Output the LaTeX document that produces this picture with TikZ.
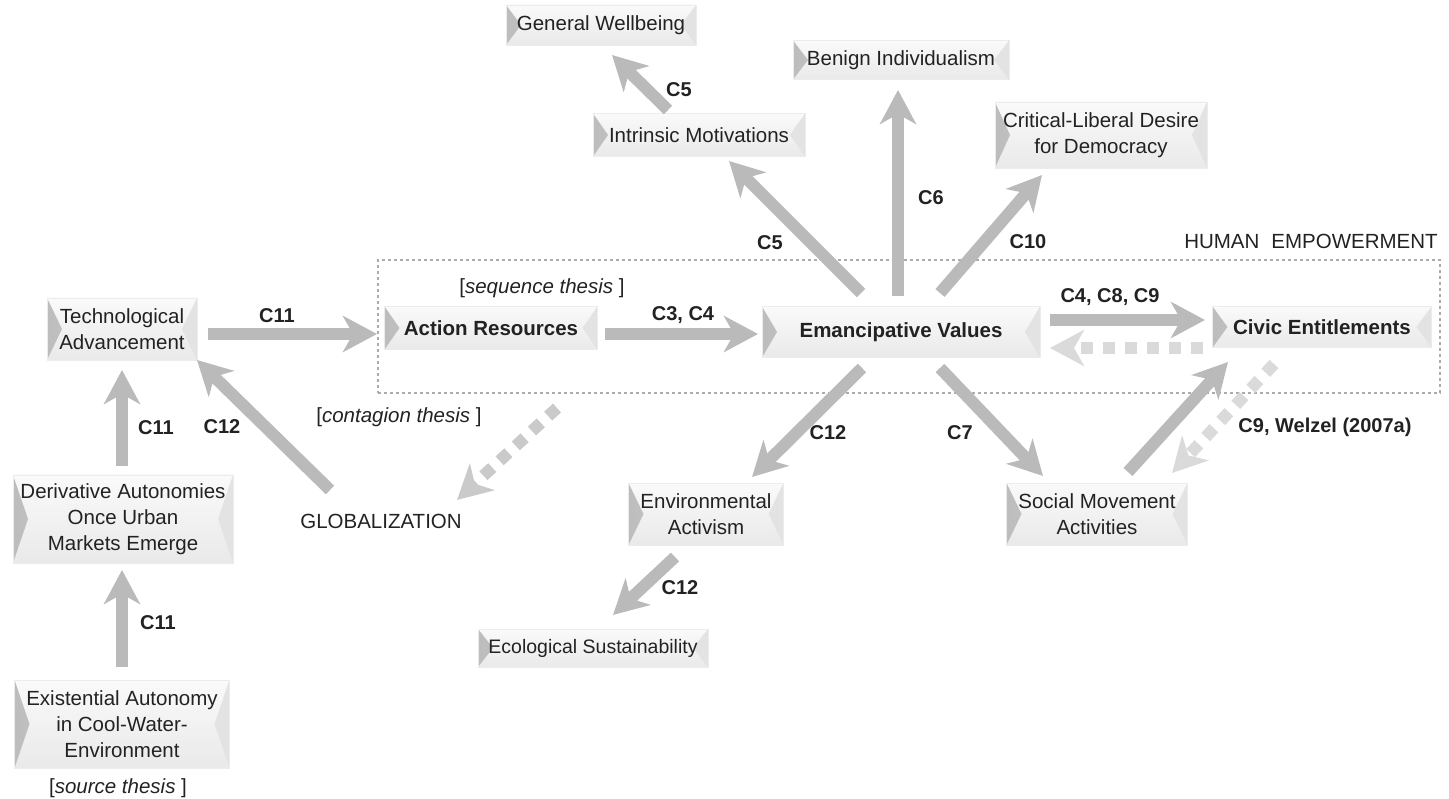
\documentclass[tikz,border=0pt]{standalone}
\usepackage{fontspec}
\setmainfont{Liberation Sans}
\usetikzlibrary{arrows.meta,calc}
\definecolor{arr}{HTML}{BABABA}
\definecolor{arrl}{HTML}{DADADA}
\definecolor{arrm}{HTML}{CACACA}
\definecolor{txt}{HTML}{222222}
\begin{document}
\begin{tikzpicture}[x=1pt,y=-1pt,
  box/.style={rectangle, inner xsep=2pt, inner ysep=2pt, align=center, text=txt,
    font=\fontsize{20.5}{26}\selectfont, top color=gray!4, bottom color=gray!17,
    draw=gray!15, line width=0.6pt,
    path picture={
      \shade[left color=gray!52, right color=gray!20]
        (path picture bounding box.north west) -- (path picture bounding box.south west)
        -- ([xshift=15pt]path picture bounding box.west) -- cycle;
      \fill[gray!22]
        (path picture bounding box.north east) -- (path picture bounding box.south east)
        -- ([xshift=-15pt]path picture bounding box.east) -- cycle;
    }},
  bbox/.style={box, font=\bfseries\fontsize{20.5}{26}\selectfont},
  lab/.style={text=txt, font=\bfseries\fontsize{20}{24}\selectfont, inner sep=0pt},
  ptext/.style={text=txt, font=\fontsize{20.5}{24}\selectfont, inner sep=0pt},
  conn/.style={draw=arr, line width=12pt, -{Stealth[length=34pt,width=36pt,inset=10pt]}},
  dconn/.style={conn, draw=arrl, dash pattern=on 12pt off 10pt},
  empbox/.style={draw=gray!65, line width=1.6pt, dash pattern=on 3pt off 3pt, rectangle},
]
\useasboundingbox (0,0) rectangle (1449,799);

% human empowerment frame
\node[empbox, minimum width=1062pt, minimum height=133pt] (hum) at (909,326.5) {};
\node[ptext] (humlab) at (1311,241) {HUMAN\hspace{12pt}EMPOWERMENT};

% boxes
\node[box, minimum width=190pt, minimum height=40pt] (gw) at (601,25) {General Wellbeing};
\node[box, minimum width=216pt, minimum height=39pt] (ben) at (901,60) {Benign Individualism};
\node[box, minimum width=212pt, minimum height=43pt] (intr) at (699,135) {Intrinsic Motivations};
\node[box, minimum width=212pt, minimum height=66pt] (crit) at (1101,135) {Critical-Liberal Desire\\for Democracy};
\node[box, minimum width=150pt, minimum height=62pt] (tech) at (122,329) {Technological\\Advancement};
\node[bbox, minimum width=213pt, minimum height=43pt] (act) at (491,328) {Action Resources};
\node[bbox, minimum width=278pt, minimum height=51pt] (ev) at (901,332) {Emancipative Values};
\node[bbox, minimum width=219pt, minimum height=41pt] (civ) at (1322,327) {Civic Entitlements};
\node[box, minimum width=220pt, minimum height=88pt] (der) at (123,519) {Derivative Autonomies\\Once Urban\\Markets Emerge};
\node[box, minimum width=215pt, minimum height=88pt] (exi) at (122,724) {Existential Autonomy\\in Cool-Water-\\Environment};
\node[box, minimum width=155pt, minimum height=62pt] (env) at (706,514) {Environmental\\Activism};
\node[box, minimum width=181pt, minimum height=62pt] (soc) at (1097,514) {Social Movement\\Activities};
\node[box, minimum width=230pt, minimum height=38pt, font=\fontsize{19.5}{24}\selectfont] (eco) at (593,648) {Ecological Sustainability};

% free texts
\node[ptext] (glob) at (381,521) {GLOBALIZATION};
\node[ptext] (seq) at (542,288) {[\textit{sequence thesis} ]};
\node[ptext] (cont) at (399,417) {[\textit{contagion thesis} ]};
\node[ptext] (src) at (118,788) {[\textit{source thesis} ]};

% connectors
\draw[conn] ($(tech)+(86,5)$) -- ($(act)+(-114,6)$);
\draw[conn] ($(act)+(114,6)$) -- ($(ev)+(-143,2)$);
\draw[conn] ($(ev)+(149,-12)$) -- ($(civ)+(-117,-7)$);
\draw[dconn] ($(civ)+(-119,21)$) -- ($(ev)+(149,16)$);
\draw[conn] ($(ev)+(-40,-39)$) -- ($(intr)+(30,26)$);
\draw[conn] ($(ev)+(-3,-36)$) -- ($(ben)+(-3,30)$);
\draw[conn] ($(ev)+(39,-39)$) -- ($(crit)+(-59,40)$);
\draw[conn] ($(intr)+(-31,-25)$) -- ($(gw)+(11,30)$);
\draw[conn] ($(ev)+(-39,36)$) -- ($(env)+(46,-37)$);
\draw[conn] ($(ev)+(39,36)$) -- ($(soc)+(-54,-38)$);
\draw[conn] ($(soc)+(31,-42)$) -- ($(civ)+(-94,35)$);
\draw[dconn] ($(civ)+(-48,37)$) -- ($(soc)+(75,-41)$);
\draw[conn] ($(env)+(-31,43)$) -- ($(eco)+(20,-33)$);
\draw[conn] ($(der)+(-1,-53)$) -- ($(tech)+(0,41)$);
\draw[conn] ($(exi)+(0,-57)$) -- ($(der)+(-1,51)$);
\draw[conn] ($(glob)+(-51,-31)$) -- ($(tech)+(75,31)$);
\draw[dconn, draw=arrm] ($(hum)+(-352,81.5)$) -- ($(glob)+(76,-21)$);

% labels
\node[lab] (l1) at (277,316) {C11};
\node[lab] (l2) at (683,315) {C3, C4};
\node[lab] (l3) at (1110,297) {C4, C8, C9};
\node[lab] (l4) at (770,243) {C5};
\node[lab] (l5) at (931,198) {C6};
\node[lab] (l6) at (1028,242) {C10};
\node[lab] (l7) at (679,90) {C5};
\node[lab] (l8) at (828,433) {C12};
\node[lab] (l9) at (960,433) {C7};
\node[lab] (l10) at (1325,427) {C9, Welzel (2007a)};
\node[lab] (l11) at (680,588) {C12};
\node[lab] (l12) at (156,428) {C11};
\node[lab] (l13) at (222,427) {C12};
\node[lab] (l14) at (158,623) {C11};
\end{tikzpicture}
\end{document}
